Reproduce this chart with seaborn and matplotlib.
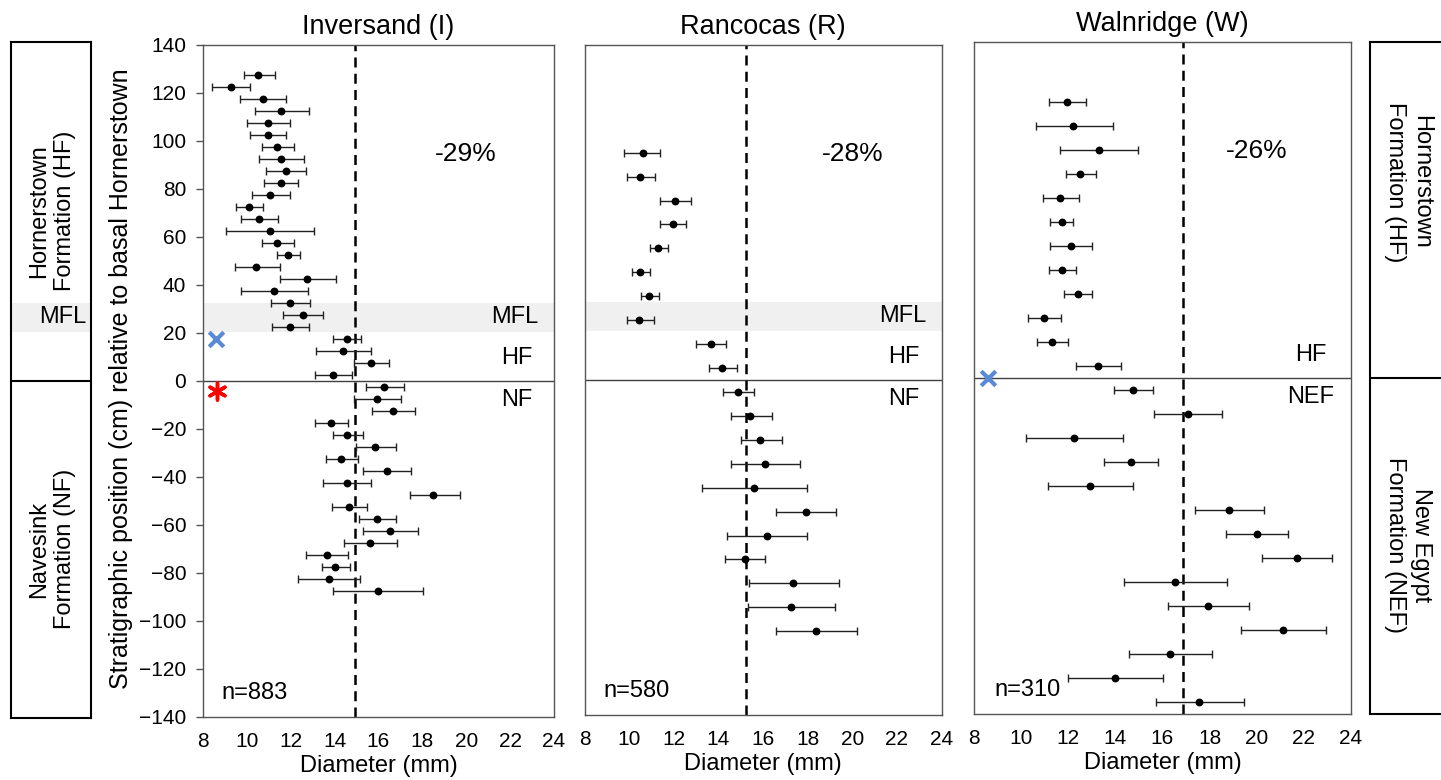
import matplotlib
matplotlib.use('Agg')
import matplotlib.pyplot as plt
import seaborn as sns
import pandas as pd

# Inversand (I): stratigraphic position (cm), mean diameter and error-bar ends (mm)
inv_pos = [127.5, 122.5, 117.5, 112.5, 107.5, 102.5, 97.5, 92.5, 87.5, 82.5, 77.5, 72.5, 67.5,
           62.5, 57.5, 52.5, 47.5, 42.5, 37.5, 32.5, 27.5, 22.5, 17.5, 12.5, 7.5, 2.5,
           -2.5, -7.5, -12.5, -17.5, -22.5, -27.5, -32.5, -37.5, -42.5, -47.5, -52.5,
           -57.5, -62.5, -67.5, -72.5, -77.5, -82.5, -87.5]
inv_mean = [10.51, 9.28, 10.72, 11.54, 10.95, 10.95, 11.39, 11.54, 11.77, 11.54, 11.07, 10.08, 10.57,
            11.07, 11.39, 11.88, 10.42, 12.76, 11.25, 11.97, 12.54, 11.97, 14.57, 14.37, 15.67, 13.93,
            16.25, 15.92, 16.65, 13.84, 14.57, 15.86, 14.31, 16.39, 14.57, 18.50, 14.67,
            15.92, 16.54, 15.61, 13.65, 14.03, 13.74, 15.96]
inv_lo = [9.87, 8.43, 9.67, 10.36, 10.01, 10.16, 10.67, 10.54, 10.87, 10.78, 10.25, 9.49, 9.73,
          9.06, 10.67, 11.36, 9.44, 11.51, 9.72, 11.12, 11.65, 11.16, 13.91, 13.14, 14.88, 13.09,
          15.43, 14.87, 15.71, 13.11, 13.91, 14.98, 13.61, 15.29, 13.49, 17.42, 13.87,
          15.10, 15.29, 14.43, 12.70, 13.43, 12.32, 13.93]
inv_hi = [11.27, 10.16, 11.77, 12.82, 11.95, 11.80, 12.13, 12.62, 12.71, 12.33, 11.95, 10.75, 11.40,
          13.06, 12.13, 12.42, 11.51, 14.06, 12.77, 12.86, 13.49, 12.82, 15.22, 15.64, 16.46, 14.78,
          17.18, 17.04, 17.68, 14.60, 15.31, 16.81, 15.05, 17.47, 15.64, 19.70, 15.49,
          16.81, 17.82, 16.84, 14.63, 14.69, 15.17, 18.05]

# Rancocas (R)
ran_pos = [95, 85, 75, 65, 55, 45, 35, 25, 15, 5,
           -5, -15, -25, -35, -45, -55, -65, -75, -85, -95, -105]
ran_mean = [10.60, 10.49, 12.06, 11.97, 11.30, 10.49, 10.87, 10.45, 13.67, 14.18,
            14.90, 15.42, 15.88, 16.09, 15.61, 17.93, 16.18, 15.19, 17.36, 17.24, 18.36]
ran_lo = [9.79, 9.90, 11.40, 11.40, 10.94, 10.13, 10.51, 9.90, 13.01, 13.58,
          14.19, 14.55, 15.00, 14.55, 13.28, 16.58, 14.37, 14.30, 15.39, 15.34, 16.58]
ran_hi = [11.37, 11.15, 12.76, 12.54, 11.73, 10.93, 11.34, 11.10, 14.34, 14.84,
          15.61, 16.39, 16.85, 17.66, 17.99, 19.27, 17.99, 16.10, 19.42, 19.21, 20.21]

# Walnridge (W)
wal_pos = [115, 105, 95, 85, 75, 65, 55, 45, 35, 25, 15, 5,
           -5, -15, -25, -35, -45, -55, -65, -75, -85, -95, -105, -115, -125, -135]
wal_mean = [11.93, 12.20, 13.32, 12.51, 11.66, 11.72, 12.12, 11.72, 12.41, 10.96, 11.31, 13.28,
            14.73, 17.08, 12.24, 14.66, 12.92, 18.84, 20.00, 21.69, 16.54, 17.92, 21.10, 16.30, 13.98, 17.56]
wal_lo = [11.20, 10.62, 11.66, 11.89, 10.91, 11.23, 11.23, 11.18, 11.81, 10.28, 10.69, 12.34,
          13.93, 15.65, 10.22, 13.52, 11.14, 17.36, 18.71, 20.22, 14.37, 16.23, 19.35, 14.59, 11.99, 15.71]
wal_hi = [12.75, 13.88, 14.96, 13.16, 12.44, 12.22, 13.02, 12.31, 13.02, 11.69, 12.00, 14.25,
          15.58, 18.51, 14.34, 15.81, 14.73, 20.32, 21.31, 23.19, 18.75, 19.66, 22.92, 18.10, 16.02, 19.47]

site_names = ['Inversand (I)', 'Rancocas (R)', 'Walnridge (W)']
site_means = [14.95, 15.22, 16.86]   # dashed reference line per site
site_change = ['-29%', '-28%', '-26%']
site_n = ['n=883', 'n=580', 'n=310']
lower_unit = ['NF', 'NF', 'NEF']
mfl_band = (20.5, 32.5)

W, H = 1441, 780
sns.set_style('white')
plt.rcParams['font.family'] = ['Liberation Sans', 'DejaVu Sans']
plt.rcParams.update({'text.color': 'black', 'axes.labelcolor': 'black',
                     'xtick.color': 'black', 'ytick.color': 'black'})

fig = plt.figure(figsize=(W / 100, H / 100), dpi=100)


def px_axes(left, top, right, bottom):
    return fig.add_axes([left / W, 1 - bottom / H, (right - left) / W, (bottom - top) / H])


def draw_site(ax, pos, mean, lo, hi, idx):
    df = pd.DataFrame({'pos': pos, 'mean': mean, 'lo': lo, 'hi': hi})
    if idx < 2:
        ax.axhspan(*mfl_band, color='#f0f0f0', lw=0, zorder=0)
    ax.axhline(0, color='#404040', lw=1, zorder=1)
    ax.axvline(site_means[idx], color='black', lw=1.8, ls=(0, (4, 2.5)), zorder=2)
    ax.errorbar(df['mean'], df['pos'], xerr=[df['mean'] - df['lo'], df['hi'] - df['mean']],
                fmt='none', ecolor='#222222', elinewidth=1, capsize=3, capthick=1, zorder=3)
    sns.scatterplot(x='mean', y='pos', data=df, color='black', s=32, linewidth=0, ax=ax, zorder=4)

    ax.set_xlim(8, 24)
    ax.set_ylim(-140, 140)
    ax.set_xticks(range(8, 25, 2))
    ax.set_yticks(range(-140, 141, 20))
    ax.set_xlabel('Diameter (mm)', fontsize=17, labelpad=3)
    ax.set_ylabel('')
    ax.set_title(site_names[idx], fontsize=19.5, pad=8)
    ax.tick_params(axis='x', length=0, pad=11, labelsize=15)
    if idx == 0:
        ax.tick_params(axis='y', length=5, width=1, color='#555555', pad=7, labelsize=15, left=True)
    else:
        ax.tick_params(axis='y', left=False, labelleft=False)
    for sp in ax.spines.values():
        sp.set_color('#555555')
        sp.set_linewidth(1)

    ax.text(20.0, 94.5, site_change[idx], fontsize=19, ha='center', va='center')
    if idx < 2:
        ax.text(23.3, 26.8, 'MFL', fontsize=17, ha='right', va='center')
    ax.text(22.3, 9.5, 'HF', fontsize=17, ha='center', va='center')
    ax.text(22.3, -8, lower_unit[idx], fontsize=17, ha='center', va='center')
    ax.text(8.85, -130, site_n[idx], fontsize=17, ha='left', va='center')


ax1 = px_axes(203, 45, 554, 717)
ax2 = px_axes(584.5, 45, 941.5, 715)
ax3 = px_axes(974, 41.7, 1351, 714)

draw_site(ax1, inv_pos, inv_mean, inv_lo, inv_hi, 0)
draw_site(ax2, ran_pos, ran_mean, ran_lo, ran_hi, 1)
draw_site(ax3, wal_pos, wal_mean, wal_lo, wal_hi, 2)

# boundary markers
ax1.scatter([8.59], [17.4], marker='x', s=110, linewidths=3, color='#5a8ad6', zorder=5, clip_on=False)
ax1.scatter([8.62], [-4.2], marker=(6, 2, 0), s=150, linewidths=2.5, color='red', zorder=5, clip_on=False)
ax3.scatter([8.61], [0], marker='x', s=110, linewidths=3, color='#5a8ad6', zorder=5, clip_on=False)

fig.text(121 / W, 1 - 379 / H, 'Stratigraphic position (cm) relative to basal Hornerstown',
         rotation=90, fontsize=18, ha='center', va='center')

# left formation column
axl = px_axes(11, 42, 91, 718)
axl.set_xlim(0, 1)
axl.set_ylim(-140.4, 141.25)
axl.axhspan(*mfl_band, color='#f0f0f0', lw=0)
axl.axhline(0, color='black', lw=1.5)
axl.set_xticks([])
axl.set_yticks([])
for sp in axl.spines.values():
    sp.set_color('black')
    sp.set_linewidth(1.5)
axl.text(0.94, 26.5, 'MFL', fontsize=17, ha='right', va='center')
fig.text(52 / W, 1 - 211 / H, 'Hornerstown\nFormation (HF)', rotation=90, fontsize=17,
         ha='center', va='center', linespacing=1.25)
fig.text(52 / W, 1 - 549 / H, 'Navesink\nFormation (NF)', rotation=90, fontsize=17,
         ha='center', va='center', linespacing=1.25)

# right formation column
axr = px_axes(1370, 42, 1460, 714)
axr.set_xlim(0, 1)
axr.set_ylim(-140, 140)
axr.axhline(0, color='black', lw=1.5)
axr.set_xticks([])
axr.set_yticks([])
for sp in axr.spines.values():
    sp.set_color('black')
    sp.set_linewidth(1.5)
fig.text(1408 / W, 1 - 182 / H, 'Hornerstown\nFormation (HF)', rotation=270, fontsize=17,
         ha='center', va='center', linespacing=1.25)
fig.text(1408 / W, 1 - 545 / H, 'New Egypt\nFormation (NEF)', rotation=270, fontsize=17,
         ha='center', va='center', linespacing=1.25)

fig.savefig('out.png', dpi=100)
